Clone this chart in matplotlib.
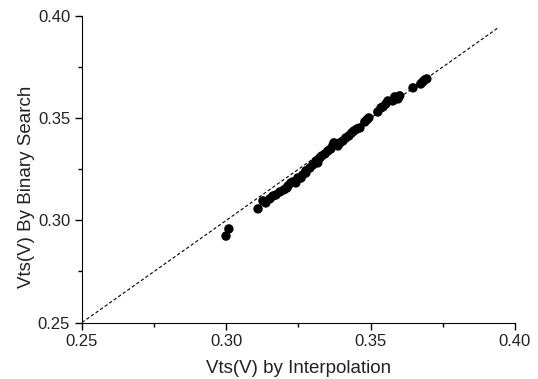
import matplotlib
matplotlib.use('Agg')
import matplotlib.pyplot as plt
from matplotlib.ticker import MultipleLocator

plt.rcParams['font.family'] = ['Liberation Sans', 'DejaVu Sans']

# Vts 数据 (插值 vs 二分搜索)
vts_interp = [0.2999, 0.3009, 0.3110, 0.3127, 0.3137, 0.3151, 0.3162, 0.3172,
              0.3186, 0.3200, 0.3214, 0.3210, 0.3224, 0.3231, 0.3241, 0.3248,
              0.3259, 0.3265, 0.3276, 0.3276, 0.3290, 0.3300, 0.3311, 0.3317,
              0.3324, 0.3331, 0.3342, 0.3352, 0.3362, 0.3369, 0.3373, 0.3387,
              0.3394, 0.3404, 0.3414, 0.3425, 0.3435, 0.3442, 0.3453, 0.3463,
              0.3480, 0.3487, 0.3494, 0.3525, 0.3536, 0.3543, 0.3553, 0.3560,
              0.3577, 0.3584, 0.3595, 0.3601, 0.3647, 0.3674, 0.3681, 0.3688,
              0.3695]
vts_binary = [0.2923, 0.2958, 0.3056, 0.3095, 0.3085, 0.3105, 0.3119, 0.3124,
              0.3139, 0.3149, 0.3168, 0.3158, 0.3183, 0.3188, 0.3183, 0.3207,
              0.3207, 0.3222, 0.3232, 0.3242, 0.3256, 0.3271, 0.3290, 0.3281,
              0.3305, 0.3315, 0.3325, 0.3339, 0.3349, 0.3364, 0.3379, 0.3364,
              0.3379, 0.3388, 0.3403, 0.3413, 0.3428, 0.3437, 0.3447, 0.3452,
              0.3481, 0.3491, 0.3501, 0.3530, 0.3550, 0.3555, 0.3569, 0.3584,
              0.3584, 0.3604, 0.3594, 0.3609, 0.3648, 0.3667, 0.3677, 0.3687,
              0.3692]
ref_line = [0.25, 0.394]

fig = plt.figure(figsize=(5.38, 3.79), dpi=100)
ax = fig.add_axes([0.1524, 0.149, 0.8046, 0.809])

ax.plot(ref_line, ref_line, color='black', linestyle=(0, (3, 2)), linewidth=0.8)
ax.scatter(vts_interp, vts_binary, s=46, color='black', edgecolors='none', zorder=3)

ax.set_xlim(0.25, 0.40)
ax.set_ylim(0.25, 0.40)
ax.xaxis.set_major_locator(MultipleLocator(0.05))
ax.yaxis.set_major_locator(MultipleLocator(0.05))
ax.xaxis.set_minor_locator(MultipleLocator(0.025))
ax.yaxis.set_minor_locator(MultipleLocator(0.025))
ax.xaxis.set_major_formatter(plt.FormatStrFormatter('%.2f'))
ax.yaxis.set_major_formatter(plt.FormatStrFormatter('%.2f'))

ax.spines['top'].set_visible(False)
ax.spines['right'].set_visible(False)
ax.tick_params(which='major', direction='out', length=5, width=1, labelsize=12,
               labelcolor='#222222')
ax.tick_params(which='minor', direction='out', length=3, width=1)

ax.set_xlabel('Vts(V) by Interpolation', fontsize=13.5, color='#222222', labelpad=8)
ax.set_ylabel('Vts(V) By Binary Search', fontsize=13.5, color='#222222')
ax.yaxis.set_label_coords(-0.108, 0.444)

fig.savefig('out.png', dpi=100)
